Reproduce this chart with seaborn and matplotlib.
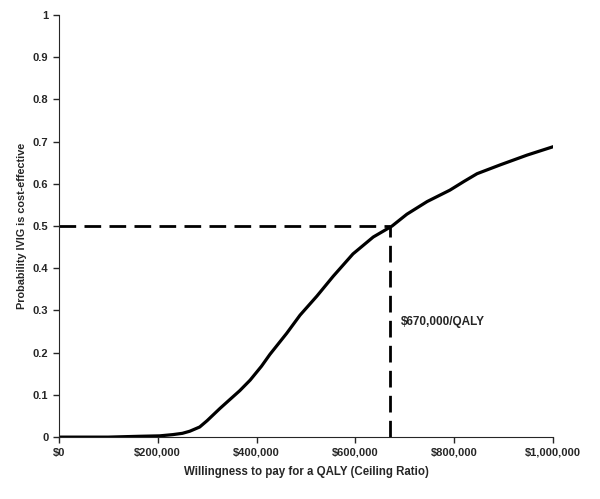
import numpy as np
import pandas as pd
import matplotlib
matplotlib.use('Agg')
import matplotlib.pyplot as plt
import seaborn as sns
from matplotlib.ticker import FuncFormatter, MultipleLocator

# acceptability curve
wtp = [0, 100000, 164000, 204000, 231000, 250000, 265000, 285000, 300000, 326000, 345000,
       366000, 387000, 410000, 427000, 461000, 488000, 522000, 555000, 595000,
       636000, 674000, 704000, 745000, 791000, 820000, 846000, 893000, 947000, 1000000]
prob = [0, 0, 0.002, 0.003, 0.006, 0.009, 0.014, 0.024, 0.039, 0.068, 0.088,
        0.110, 0.135, 0.168, 0.196, 0.246, 0.289, 0.334, 0.381, 0.434,
        0.474, 0.500, 0.528, 0.558, 0.585, 0.606, 0.624, 0.645, 0.668, 0.688]

ceiling = 670000
threshold = 0.5
label = '$670,000/QALY'

df = pd.DataFrame({'wtp': wtp, 'prob': prob})

sns.set_style('ticks')
plt.rcParams['font.family'] = ['Liberation Sans', 'DejaVu Sans']
plt.rcParams['font.weight'] = 'bold'

fig = plt.figure(figsize=(6, 4.99), dpi=100)
ax = fig.add_axes([0.098, 0.124, 0.824, 0.846])

sns.lineplot(data=df, x='wtp', y='prob', ax=ax, color='k', linewidth=2.3)
ax.plot([0, ceiling], [threshold, threshold], color='k', lw=2, ls=(0, (6, 3)))
ax.plot([ceiling, ceiling], [0, threshold], color='k', lw=2, ls=(0, (6, 3)))
ax.text(ceiling + 22000, 0.273, label, fontsize=8.5, fontweight='bold', va='center')

ax.set_xlim(0, 1000000)
ax.set_ylim(0, 1)
ax.xaxis.set_major_locator(MultipleLocator(200000))
ax.yaxis.set_major_locator(MultipleLocator(0.1))
ax.xaxis.set_major_formatter(FuncFormatter(lambda v, p: f'${v:,.0f}'))
ax.yaxis.set_major_formatter(FuncFormatter(lambda v, p: f'{v:g}'))
ax.tick_params(labelsize=8, length=4, width=1)
for t in ax.get_xticklabels() + ax.get_yticklabels():
    t.set_fontweight('bold')
ax.set_xlabel('Willingness to pay for a QALY (Ceiling Ratio)', fontsize=8.3, fontweight='bold', labelpad=6)
ax.set_ylabel('Probability IVIG is cost-effective', fontsize=7.8, fontweight='bold', labelpad=4)
sns.despine(ax=ax)

fig.savefig('out.png', dpi=100)
